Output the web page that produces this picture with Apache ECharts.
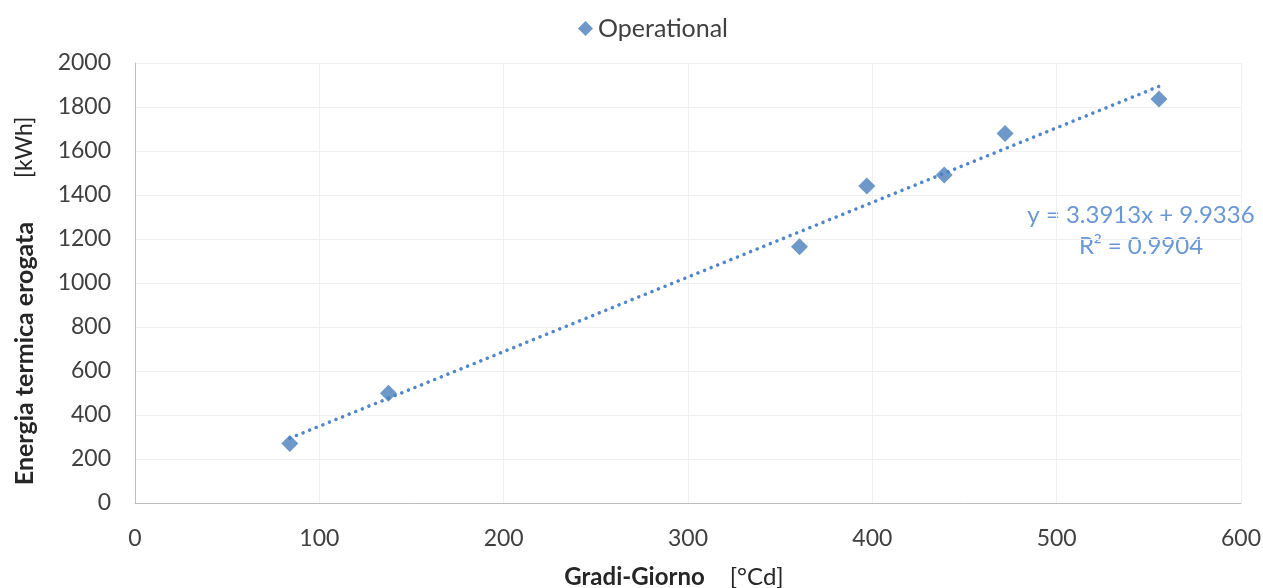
<!DOCTYPE html>
<html>
<head>
<meta charset="utf-8">
<script src="https://cdn.jsdelivr.net/npm/echarts@6/dist/echarts.min.js"></script>
<style>
  html, body { margin: 0; padding: 0; background: #fff; }
  #chart { width: 1263px; height: 588px; }
</style>
</head>
<body>
<div id="chart"></div>
<script>
// Degree-days vs. delivered thermal energy
const gradiGiorno = [84, 137.5, 360.5, 397, 439, 472, 555.5];
const energia = [271, 499, 1165, 1441, 1491, 1680, 1836];

// Linear trendline coefficients
const slope = 3.3913;
const intercept = 9.9336;
const r2 = 0.9904;

const trendX = [Math.min(...gradiGiorno), Math.max(...gradiGiorno)];
const trendPoints = trendX.map(x => [x, slope * x + intercept]);
const points = gradiGiorno.map((x, i) => [x, energia[i]]);

const FONT = 'Lato';
const AXIS_TEXT = '#404040';
const TITLE_TEXT = '#262626';
const EQ_COLOR = '#6a97d6';

const chart = echarts.init(document.getElementById('chart'), null, { renderer: 'canvas' });

chart.setOption({
  animation: false,
  backgroundColor: '#ffffff',
  textStyle: { fontFamily: FONT },
  grid: { left: 135, right: 22, top: 63, bottom: 85, containLabel: false, outerBoundsMode: 'none' },
  legend: {
    data: ['Operational'],
    top: 11,
    left: 573,
    icon: 'diamond',
    itemWidth: 15,
    itemHeight: 15,
    textStyle: { fontFamily: FONT, fontSize: 25, color: AXIS_TEXT }
  },
  xAxis: {
    type: 'value',
    min: 0, max: 600, interval: 100,
    axisLine: { show: true, lineStyle: { color: '#bfbfbf', width: 1 } },
    axisTick: { show: false },
    axisLabel: { fontFamily: FONT, fontSize: 23, color: AXIS_TEXT, margin: 24 },
    splitLine: { show: true, lineStyle: { color: '#f0f0f0', width: 1 } }
  },
  yAxis: {
    type: 'value',
    min: 0, max: 2000, interval: 200,
    axisLine: { show: true, lineStyle: { color: '#bfbfbf', width: 1 } },
    axisTick: { show: false },
    axisLabel: { fontFamily: FONT, fontSize: 23, color: AXIS_TEXT, margin: 24, formatter: v => String(v) },
    splitLine: { show: true, lineStyle: { color: '#f0f0f0', width: 1 } }
  },
  series: [
    {
      name: 'Trend',
      type: 'line',
      data: trendPoints,
      symbol: 'none',
      silent: true,
      lineStyle: { color: '#4f86cc', width: 3.5, type: [0.1, 7], cap: 'round' },
      z: 1
    },
    {
      name: 'Operational',
      type: 'scatter',
      data: points,
      symbol: 'diamond',
      symbolSize: 17,
      itemStyle: { color: '#4a7ebb' },
      z: 3
    }
  ],
  graphic: [
    // Axis titles
    {
      type: 'text',
      x: 674, y: 577,
      style: {
        text: '{b|Gradi-Giorno}{n|[°Cd]}',
        align: 'center', verticalAlign: 'middle',
        rich: {
          b: { fontFamily: FONT, fontSize: 24, fontWeight: 'bold', fill: TITLE_TEXT, padding: [0, 25, 0, 0] },
          n: { fontFamily: FONT, fontSize: 24, fill: TITLE_TEXT }
        }
      }
    },
    {
      type: 'text',
      x: 25, y: 301,
      rotation: Math.PI / 2,
      style: {
        text: '{b|Energia termica erogata}{n|[kWh]}',
        align: 'center', verticalAlign: 'middle',
        rich: {
          b: { fontFamily: FONT, fontSize: 25, fontWeight: 'bold', fill: TITLE_TEXT, lineHeight: 30, padding: [0, 44, 0, 0] },
          n: { fontFamily: FONT, fontSize: 23, fill: TITLE_TEXT, lineHeight: 30 }
        }
      }
    },
    // Trendline equation
    {
      type: 'text',
      x: 1141, y: 215,
      style: {
        text: 'y = ' + slope + 'x + ' + intercept,
        align: 'center', verticalAlign: 'middle',
        font: '24px ' + FONT,
        fill: EQ_COLOR
      }
    },
    {
      type: 'text',
      x: 1141, y: 246,
      style: {
        text: '{t|R}{s|²}{t| = ' + r2.toFixed(4) + '}',
        align: 'center', verticalAlign: 'middle',
        rich: {
          t: { fontFamily: FONT, fontSize: 24, fill: EQ_COLOR },
          s: { fontFamily: 'Noto Sans', fontSize: 22, fill: EQ_COLOR }
        }
      }
    }
  ]
});
</script>
</body>
</html>
